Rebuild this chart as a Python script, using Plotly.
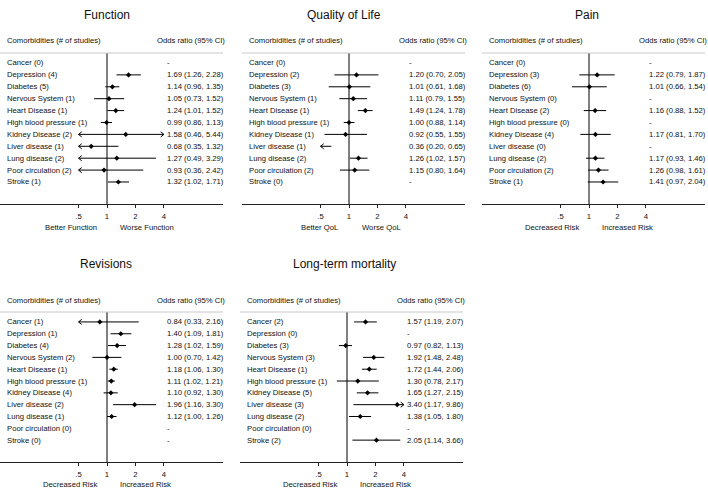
import math
import plotly.graph_objects as go

# ---------------- data ----------------
comorbidities = ["Cancer", "Depression", "Diabetes", "Nervous System", "Heart Disease",
                 "High blood pressure", "Kidney Disease", "Liver disease", "Lung disease",
                 "Poor circulation", "Stroke"]

function_n = [0, 4, 5, 1, 1, 1, 2, 1, 2, 2, 1]
function_or = [None, 1.69, 1.14, 1.05, 1.24, 0.99, 1.58, 0.68, 1.27, 0.93, 1.32]
function_lo = [None, 1.26, 0.96, 0.73, 1.01, 0.86, 0.46, 0.35, 0.49, 0.36, 1.02]
function_hi = [None, 2.28, 1.35, 1.52, 1.52, 1.13, 5.44, 1.32, 3.29, 2.42, 1.71]

qol_n = [0, 2, 3, 1, 1, 1, 1, 1, 2, 2, 0]
qol_or = [None, 1.20, 1.01, 1.11, 1.49, 1.00, 0.92, 0.36, 1.26, 1.15, None]
qol_lo = [None, 0.70, 0.61, 0.79, 1.24, 0.88, 0.55, 0.20, 1.02, 0.80, None]
qol_hi = [None, 2.05, 1.68, 1.55, 1.78, 1.14, 1.55, 0.65, 1.57, 1.64, None]

pain_n = [0, 3, 6, 0, 2, 0, 4, 0, 2, 2, 1]
pain_or = [None, 1.22, 1.01, None, 1.16, None, 1.17, None, 1.17, 1.26, 1.41]
pain_lo = [None, 0.79, 0.66, None, 0.88, None, 0.81, None, 0.93, 0.98, 0.97]
pain_hi = [None, 1.87, 1.54, None, 1.52, None, 1.70, None, 1.46, 1.61, 2.04]

revisions_n = [1, 1, 4, 2, 1, 1, 4, 2, 1, 0, 0]
revisions_or = [0.84, 1.40, 1.28, 1.00, 1.18, 1.11, 1.10, 1.96, 1.12, None, None]
revisions_lo = [0.33, 1.09, 1.02, 0.70, 1.06, 1.02, 0.92, 1.16, 1.00, None, None]
revisions_hi = [2.16, 1.81, 1.59, 1.42, 1.30, 1.21, 1.30, 3.30, 1.26, None, None]

mortality_n = [2, 0, 3, 3, 1, 1, 5, 3, 2, 0, 2]
mortality_or = [1.57, None, 0.97, 1.92, 1.72, 1.30, 1.65, 3.40, 1.38, None, 2.05]
mortality_lo = [1.19, None, 0.82, 1.48, 1.44, 0.78, 1.27, 1.17, 1.05, None, 1.14]
mortality_hi = [2.07, None, 1.13, 2.48, 2.06, 2.17, 2.15, 9.86, 1.80, None, 3.66]

tick_vals = [0.5, 1, 2, 4]
tick_text = [".5", "1", "2", "4"]
clip_lo, clip_hi = 0.5, 4.0

panels = [
    dict(title="Function", n=function_n, orv=function_or, lo=function_lo, hi=function_hi,
         left="Better Function", right="Worse Function"),
    dict(title="Quality of Life", n=qol_n, orv=qol_or, lo=qol_lo, hi=qol_hi,
         left="Better QoL", right="Worse QoL"),
    dict(title="Pain", n=pain_n, orv=pain_or, lo=pain_lo, hi=pain_hi,
         left="Decreased Risk", right="Increased Risk"),
    dict(title="Revisions", n=revisions_n, orv=revisions_or, lo=revisions_lo, hi=revisions_hi,
         left="Decreased Risk", right="Increased Risk"),
    dict(title="Long-term mortality", n=mortality_n, orv=mortality_or, lo=mortality_lo,
         hi=mortality_hi, left="Decreased Risk", right="Increased Risk"),
]

# ---------------- layout geometry (pixels) ----------------
W, H = 708, 489
panel_left = [0, 242, 482, 0, 240]
panel_width = 223
panel_top = [53, 53, 53, 312, 312]
panel_bottom = [204, 204, 204, 462, 462]
axis_title_shift = [-23, -23, -23, -22, -22]
title_cx = [107, 344, 587, 106, 344]
title_cy = [15, 15, 15, 264, 264]
vline_off = 107
px_per_decade = 94.5
FONT = "Liberation Sans, Arial, sans-serif"
TXT = "#111111"
fs = 7.7
row_px = 11.9
arrow_dx = 10 ** (3.2 / px_per_decade)   # arrow arm length (~3 px) as a log factor
arrow_dy = 2.6 / row_px                  # arrow half-height (~2.6 px) in row units

fig = go.Figure()
annotations = []
shapes = []
layout_axes = {}

for i, p in enumerate(panels):
    k = "" if i == 0 else str(i + 1)
    xa, ya = "x" + k, "y" + k
    rows = list(range(1, len(comorbidities) + 1))

    lx, ly = [], []
    mx, my = [], []
    for r, o, lo, hi in zip(rows, p["orv"], p["lo"], p["hi"]):
        if o is None:
            continue
        a, b = max(lo, clip_lo), min(hi, clip_hi)
        lx += [a, b, None]
        ly += [r, r, None]
        if clip_lo <= o <= clip_hi:
            mx.append(o)
            my.append(r)
        if lo < clip_lo:   # open chevron at the clipped lower end
            lx += [clip_lo * arrow_dx, clip_lo, clip_lo * arrow_dx, None]
            ly += [r - arrow_dy, r, r + arrow_dy, None]
        if hi > clip_hi:   # open chevron at the clipped upper end
            lx += [clip_hi / arrow_dx, clip_hi, clip_hi / arrow_dx, None]
            ly += [r - arrow_dy, r, r + arrow_dy, None]
    fig.add_trace(go.Scatter(x=lx, y=ly, mode="lines", line=dict(color="black", width=1),
                             xaxis=xa, yaxis=ya, showlegend=False, hoverinfo="skip",
                             cliponaxis=False))
    fig.add_trace(go.Scatter(x=mx, y=my, mode="markers",
                             marker=dict(color="black", size=4, symbol="diamond"),
                             xaxis=xa, yaxis=ya, showlegend=False))

    L = panel_left[i]
    x0 = L / W
    x1 = (L + panel_width) / W
    y0 = 1 - panel_bottom[i] / H
    y1 = 1 - panel_top[i] / H
    rng = [-vline_off / px_per_decade, (panel_width - vline_off) / px_per_decade]
    layout_axes["xaxis" + k] = dict(domain=[x0, x1], anchor=ya, type="log", range=rng,
                                    tickvals=tick_vals, ticktext=tick_text, showgrid=False,
                                    zeroline=False, showline=True, linecolor="#222222",
                                    linewidth=1, ticks="outside", ticklen=3, tickcolor="#222222",
                                    ticklabelstandoff=2,
                                    tickfont=dict(family=FONT, size=fs, color=TXT),
                                    fixedrange=True)
    layout_axes["yaxis" + k] = dict(domain=[y0, y1], anchor=xa, range=[12.85, 0.16],
                                    visible=False, fixedrange=True)

    # reference line at OR = 1
    shapes.append(dict(type="line", xref=xa, yref=ya + " domain", x0=1, x1=1, y0=0, y1=1,
                       line=dict(color="black", width=1)))
    # header separator
    shapes.append(dict(type="line", xref=xa + " domain", yref=ya + " domain", x0=0, x1=1,
                       y0=1, y1=1, line=dict(color="#c8c8c8", width=1)))

    annotations.append(dict(text="Comorbidities (# of studies)", xref=xa + " domain", x=0, xshift=5,
                            xanchor="left", yref=ya + " domain", y=1, yshift=12, yanchor="middle",
                            showarrow=False, font=dict(family=FONT, size=fs, color=TXT)))
    annotations.append(dict(text="Odds ratio (95% CI)", xref=xa + " domain", x=0, xshift=155,
                            xanchor="left", yref=ya + " domain", y=1, yshift=12, yanchor="middle",
                            showarrow=False, font=dict(family=FONT, size=fs, color=TXT)))
    for r, name, n, o, lo, hi in zip(rows, comorbidities, p["n"], p["orv"], p["lo"], p["hi"]):
        annotations.append(dict(text=f"{name} ({n})", xref=xa + " domain", x=0, xshift=5,
                                xanchor="left", yref=ya, y=r, yanchor="middle", showarrow=False,
                                font=dict(family=FONT, size=fs, color=TXT)))
        val = "-" if o is None else f"{o:.2f} ({lo:.2f}, {hi:.2f})"
        annotations.append(dict(text=val, xref=xa + " domain", x=0, xshift=165,
                                xanchor="left", yref=ya, y=r, yanchor="middle", showarrow=False,
                                font=dict(family=FONT, size=fs, color=TXT)))
    annotations.append(dict(text=p["left"], xref=xa, x=0, xshift=-8, xanchor="right",
                            yref=ya + " domain", y=0, yshift=axis_title_shift[i], yanchor="middle",
                            showarrow=False, font=dict(family=FONT, size=fs, color=TXT)))
    annotations.append(dict(text=p["right"], xref=xa, x=0, xshift=11, xanchor="left",
                            yref=ya + " domain", y=0, yshift=axis_title_shift[i], yanchor="middle",
                            showarrow=False, font=dict(family=FONT, size=fs, color=TXT)))
    annotations.append(dict(text=p["title"], xref="paper", x=title_cx[i] / W, xanchor="center",
                            yref="paper", y=1 - title_cy[i] / H, yanchor="middle", showarrow=False,
                            font=dict(family=FONT, size=12, color=TXT)))

fig.update_layout(width=W, height=H, margin=dict(l=0, r=0, t=0, b=0),
                  paper_bgcolor="white", plot_bgcolor="white", hovermode=False,
                  annotations=annotations, shapes=shapes, showlegend=False, **layout_axes)

fig.write_html("out.html", config={"displayModeBar": False, "staticPlot": True},
               post_script="document.body.style.margin='0';document.body.style.overflow='hidden';")
